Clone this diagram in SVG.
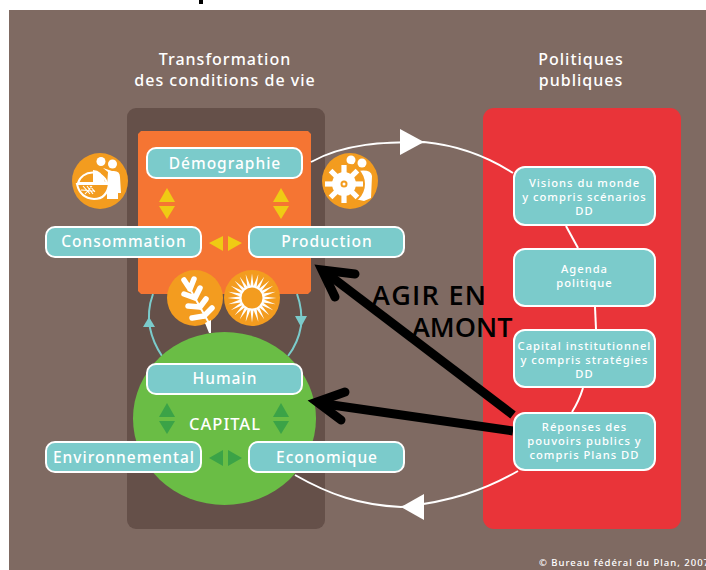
<svg xmlns="http://www.w3.org/2000/svg" width="706" height="570" viewBox="0 0 706 570">
<style>
.box{fill:#7bcbcb;stroke:#fff;stroke-width:2}
.t{font-family:"Noto Sans","Open Sans",sans-serif;font-weight:500;fill:#fff;text-anchor:middle;letter-spacing:1px}
.lb{font-size:15.5px}
.sm{font-size:11.2px}
.hd{font-size:16px}
.ic{fill:#f39c1f}
.w{fill:#fff}
.y{fill:#efcb14}
.g{fill:#3ba347}
.ring{fill:none;stroke:#fff;stroke-width:2}
.teal{fill:none;stroke:#7bcbcb;stroke-width:2}
.shaft{fill:none;stroke:#000;stroke-width:9}
.head{fill:none;stroke:#000;stroke-width:9;stroke-linecap:round;stroke-linejoin:miter}
.ag{font-family:"Open Sans","Noto Sans",sans-serif;font-weight:600;font-size:27px;fill:#000}
.gr{stroke:#fff;stroke-width:5.5;stroke-linecap:round;fill:none}
</style>
<defs>
<polygon id="ray" points="-1.8,-10 1.8,-10 0,-24.500" fill="#fff"/>
<rect id="tooth" x="-2.6" y="-19" width="5.2" height="9" fill="#fff"/>
</defs>
<rect x="0" y="0" width="706" height="570" fill="#fff"/>
<rect x="199" y="0" width="4" height="4" fill="#000"/>
<rect x="9" y="10" width="697" height="560" fill="#7f6a62"/>
<rect x="127" y="108" width="198" height="421" rx="9" fill="#655049"/>
<rect x="483" y="108" width="198" height="421" rx="11" fill="#e93439"/>
<polygon points="141,131 308,131 311,134 311,291 308,294 141,294 138,291 138,134" fill="#f57533"/>
<g id="connectors">
<path class="ring" d="M311,162 C345,143 385,142 424,142 C455,145 485,155 513,173"/>
<path class="ring" d="M566,226 L578,248"/>
<path class="ring" d="M595,307 L596,329"/>
<path class="ring" d="M583,388 Q579,401 572,412"/>
<path class="ring" d="M518,471 C485,490 450,502 401,507 C360,505 330,495 295,475"/>
<polygon class="w" points="424,142 400,129 400,155"/>
<polygon class="w" points="401,507 424,494 424,520"/>
<path class="teal" d="M153,294 C149,305 148,318 150,328 C152,338 156,347 162,356"/>
<path class="teal" d="M297,294 C301,305 302,316 301,326 C299,338 295,347 288,356"/>
<polygon points="149,317 143,327 155,327" fill="#7bcbcb"/>
<polygon points="301,327 295,316 307,316" fill="#7bcbcb"/>
</g>
<g id="capital-circle">
<ellipse cx="224.500" cy="418.500" rx="91.500" ry="86.500" fill="#6abd45"/>
<text class="t" x="225" y="430" font-size="16.5">CAPITAL</text>
<polygon class="g" points="167,403 159,417 175,417"/><polygon class="g" points="167,434 159,421 175,421"/>
<polygon class="g" points="281,403 273,417 289,417"/><polygon class="g" points="281,434 273,421 289,421"/>
<polygon class="g" points="209,458 223,450 223,466"/><polygon class="g" points="242,458 228,450 228,466"/>
</g>
<g id="yellow-arrows">
<polygon class="y" points="167,188 159,202 175,202"/><polygon class="y" points="167,219 159,206 175,206"/>
<polygon class="y" points="281,188 273,202 289,202"/><polygon class="y" points="281,219 273,206 289,206"/>
<polygon class="y" points="209,243 223,236 223,251"/><polygon class="y" points="242,243 228,236 228,251"/>
</g>
<g id="icon-consommation">
<circle class="ic" cx="100" cy="181" r="28"/>
<circle class="w" cx="101" cy="161.500" r="4.500"/><circle class="w" cx="112.500" cy="164" r="4.500"/>
<path class="w" d="M103,168 L112,171 Q120,170 120,177 L121,193 L118,193 L118,199 L107,199 L107,186 L108,172 Z"/>
<path d="M78,183 A15,14 0 0 1 107,183 Z" fill="#f39c1f" stroke="#fff" stroke-width="2"/>
<path class="w" d="M93,170 Q102,170 105,182 L93,182 Z"/>
<path d="M77,184 L109,184 Q107,199 94,199 Q80,198 77,184 Z" fill="#f39c1f" stroke="#fff" stroke-width="2"/>
<path d="M81,190 L95,191 M83,186 L90,194 M87,186 L93,194 M90,186 L95,192 M85,194 L92,186" stroke="#fff" stroke-width="1.1" fill="none"/>
</g>
<g id="icon-production">
<circle class="ic" cx="350" cy="181" r="28"/>
<circle class="w" cx="351" cy="160" r="4.500"/><circle class="w" cx="362" cy="163" r="4.500"/>
<path class="w" d="M349,166 L358,171 Q371,169 372,176 L371,198 L364,201 L355,199 L355,170 Z"/>
<circle class="ic" cx="344" cy="184" r="21"/>
<g transform="translate(344,184)">
<use href="#tooth"/><use href="#tooth" transform="rotate(45)"/><use href="#tooth" transform="rotate(90)"/><use href="#tooth" transform="rotate(135)"/><use href="#tooth" transform="rotate(180)"/><use href="#tooth" transform="rotate(225)"/><use href="#tooth" transform="rotate(270)"/><use href="#tooth" transform="rotate(315)"/>
<circle r="12" fill="#fff"/><circle r="3.500" fill="#f39c1f"/><circle r="1.500" fill="#fff"/>
</g>
</g>
<g id="icon-ble">
<circle class="ic" cx="195" cy="298" r="28"/>
<path d="M190,289 L210,325" stroke="#fff" stroke-width="2" fill="none"/>
<path class="gr" d="M190,289 L184,280 M190,289 L194,279 M195,298 L184,294 M195,298 L200,288 M200,307 L188,306 M200,307 L206,299 M204,316 L192,318 M204,316 L212,308"/>
<path d="M209,333 L211,333 L211,320 L205,323 Z" fill="#fff"/>
</g>
<g id="icon-soleil">
<circle class="ic" cx="252" cy="298" r="28"/>
<g transform="translate(252,298)">
<use href="#ray"/><use href="#ray" transform="rotate(15)"/><use href="#ray" transform="rotate(30)"/><use href="#ray" transform="rotate(45)"/><use href="#ray" transform="rotate(60)"/><use href="#ray" transform="rotate(75)"/><use href="#ray" transform="rotate(90)"/><use href="#ray" transform="rotate(105)"/><use href="#ray" transform="rotate(120)"/><use href="#ray" transform="rotate(135)"/><use href="#ray" transform="rotate(150)"/><use href="#ray" transform="rotate(165)"/><use href="#ray" transform="rotate(180)"/><use href="#ray" transform="rotate(195)"/><use href="#ray" transform="rotate(210)"/><use href="#ray" transform="rotate(225)"/><use href="#ray" transform="rotate(240)"/><use href="#ray" transform="rotate(255)"/><use href="#ray" transform="rotate(270)"/><use href="#ray" transform="rotate(285)"/><use href="#ray" transform="rotate(300)"/><use href="#ray" transform="rotate(315)"/><use href="#ray" transform="rotate(330)"/><use href="#ray" transform="rotate(345)"/>
<circle r="11.500" fill="#f39c1f" stroke="#fff" stroke-width="2"/>
</g>
</g>
<text class="t hd" x="225" y="65">Transformation</text>
<text class="t hd" x="225" y="86">des conditions de vie</text>
<text class="t hd" x="581" y="65">Politiques</text>
<text class="t hd" x="581" y="86">publiques</text>
<g id="black-arrows">
<path class="shaft" d="M513,415 L325,272"/>
<path class="head" d="M355,274 L322,270 L335,297"/>
<path class="shaft" d="M513,431 L318,403"/>
<path class="head" d="M345,392 L317,402 L341,420"/>
</g>
<g id="n-demographie"><rect class="box" x="147" y="148" width="155" height="30" rx="9"/><text class="t lb" x="225" y="169">Démographie</text></g>
<g id="n-consommation"><rect class="box" x="46" y="227" width="155" height="30" rx="9"/><text class="t lb" x="124" y="247">Consommation</text></g>
<g id="n-production"><rect class="box" x="249" y="227" width="155" height="30" rx="9"/><text class="t lb" x="327" y="247">Production</text></g>
<g id="n-humain"><rect class="box" x="147" y="364" width="155" height="30" rx="9"/><text class="t lb" x="225" y="384">Humain</text></g>
<g id="n-environnemental"><rect class="box" x="46" y="442" width="155" height="30" rx="9"/><text class="t lb" x="124" y="463">Environnemental</text></g>
<g id="n-economique"><rect class="box" x="249" y="442" width="155" height="30" rx="9"/><text class="t lb" x="327" y="463">Economique</text></g>
<g id="n-visions"><rect class="box" x="514" y="167" width="141" height="58" rx="11"/><text class="t sm" x="584.500" y="187">Visions du monde</text><text class="t sm" x="584.500" y="201">y compris scénarios</text><text class="t sm" x="584.500" y="215">DD</text></g>
<g id="n-agenda"><rect class="box" x="514" y="249" width="141" height="57" rx="11"/><text class="t sm" x="584.500" y="273">Agenda</text><text class="t sm" x="584.500" y="287">politique</text></g>
<g id="n-capital"><rect class="box" x="514" y="330" width="141" height="57" rx="11"/><text class="t sm" x="584.500" y="350">Capital institutionnel</text><text class="t sm" x="584.500" y="364">y compris stratégies</text><text class="t sm" x="584.500" y="378">DD</text></g>
<g id="n-reponses"><rect class="box" x="514" y="413" width="141" height="57" rx="11"/><text class="t sm" x="584.500" y="431">Réponses des</text><text class="t sm" x="584.500" y="445">pouvoirs publics y</text><text class="t sm" x="584.500" y="459">compris Plans DD</text></g>
<text class="ag" x="372" y="305" letter-spacing="1.300">AGIR EN</text>
<text class="ag" x="412" y="337">AMONT</text>
<text class="t" x="539" y="566" font-size="9.500" style="text-anchor:start">© Bureau fédéral du Plan, 2007</text>
</svg>
